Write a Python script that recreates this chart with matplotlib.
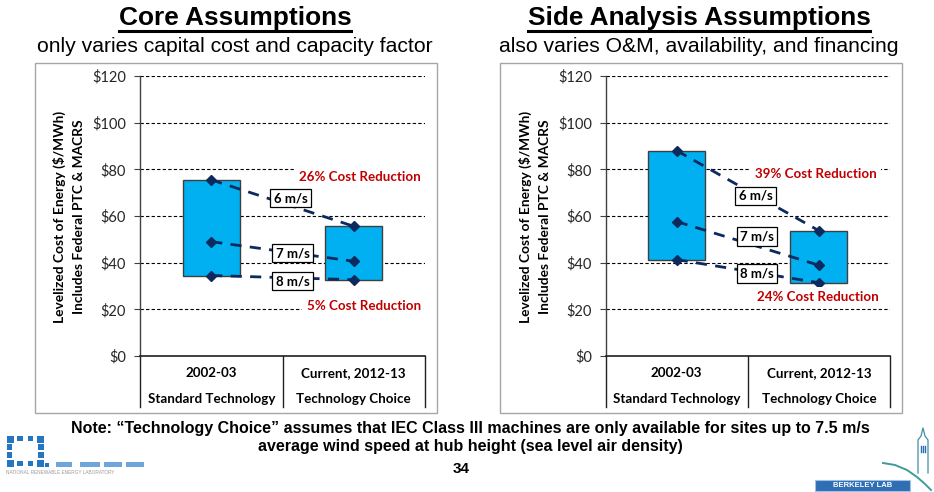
import matplotlib
matplotlib.use('Agg')
import matplotlib.pyplot as plt
import matplotlib.transforms as mtransforms
from matplotlib.patches import Rectangle
from matplotlib.lines import Line2D
import math

# ---------------- data ----------------
categories_top = ["2002-03", "Current, 2012-13"]
categories_bottom = ["Standard Technology", "Technology Choice"]
speed_labels = ["6 m/s", "7 m/s", "8 m/s"]

core_6ms = [75.5, 55.6]
core_7ms = [49.0, 40.6]
core_8ms = [34.5, 32.7]

side_6ms = [88.0, 53.7]
side_7ms = [57.6, 38.9]
side_8ms = [41.3, 31.4]

core_reductions = ["26% Cost Reduction", "5% Cost Reduction"]
side_reductions = ["39% Cost Reduction", "24% Cost Reduction"]

yticks = [0, 20, 40, 60, 80, 100, 120]
ytick_labels = ["$0", "$20", "$40", "$60", "$80", "$100", "$120"]

titles = ["Core Assumptions", "Side Analysis Assumptions"]
subtitles = ["only varies capital cost and capacity factor",
             "also varies O&M, availability, and financing"]
ylabel1 = "Levelized Cost of Energy ($/MWh)"
ylabel2 = "Includes Federal PTC & MACRS"
note_lines = ["Note: \u201cTechnology Choice\u201d assumes that IEC Class III machines are only available for sites up to 7.5 m/s",
              "average wind speed at hub height (sea level air density)"]
page_no = "34"

# ---------------- style ----------------
W, H = 934, 492
DPI = 100
CAL = ['Lato', 'DejaVu Sans']
ARIAL = ['Liberation Sans', 'DejaVu Sans']
BOX_BLUE = '#00B0F0'
NAVY = '#0D2A5E'
RED = '#C00000'

fig = plt.figure(figsize=(W / DPI, H / DPI), dpi=DPI)
fig.patch.set_facecolor('white')


def fx(x):
    return x / W


def fy(y):
    return 1 - y / H


def draw_panel(ax, s6, s7, s8, reductions, label_pos, red_pos):
    xs = list(range(len(categories_top)))
    ax.set_xlim(-0.5, 1.5)
    ax.set_ylim(0, 120)
    # grid
    for t in yticks[1:]:
        ax.axhline(t, color='black', lw=0.8, ls=(0, (3, 2)), zorder=1)
    # floating boxes
    lows = [min(a, b, c) for a, b, c in zip(s6, s7, s8)]
    highs = [max(a, b, c) for a, b, c in zip(s6, s7, s8)]
    ax.bar(xs, [h - l for h, l in zip(highs, lows)], bottom=lows, width=0.40,
           color=BOX_BLUE, edgecolor='#3F3F3F', linewidth=1.0, zorder=2)
    # dashed series
    for series in (s6, s7, s8):
        ax.plot(xs, series, color=NAVY, lw=2.0, ls=(0, (4, 3)), marker='D',
                markersize=5, markerfacecolor=NAVY, markeredgecolor=NAVY, zorder=4)
    # speed labels
    for lab, (px_, py_) in zip(speed_labels, label_pos):
        ax.text(px_, py_, lab, ha='center', va='center', fontsize=9.5,
                fontweight='bold', family=CAL, color='black', zorder=6,
                bbox=dict(boxstyle='square,pad=0.25', fc='white', ec='black', lw=0.9))
    # reductions
    for lab, (px_, py_) in zip(reductions, red_pos):
        ax.text(px_, py_, lab, ha='right', va='center', fontsize=9.6,
                fontweight='bold', family=CAL, color=RED, zorder=6,
                bbox=dict(boxstyle='square,pad=0.35', fc='white', ec='none'))
    # axes styling
    ax.set_yticks(yticks)
    ax.set_yticklabels(ytick_labels, family=CAL, fontsize=10.5, color='#262626')
    ax.tick_params(axis='y', length=4, width=0.8, color='#404040', pad=6)
    ax.set_xticks([])
    for s in ('top', 'right'):
        ax.spines[s].set_visible(False)
    ax.spines['left'].set_color('#404040')
    ax.spines['left'].set_linewidth(1.0)
    ax.spines['bottom'].set_color('#202020')
    ax.spines['bottom'].set_linewidth(1.2)
    ax.set_facecolor('none')
    # multi-level category axis
    tr = mtransforms.blended_transform_factory(ax.transData, ax.transAxes)
    for xb in (-0.5, 0.5, 1.5):
        ax.add_line(Line2D([xb, xb], [0, -0.182], transform=tr, color='#202020',
                           lw=1.0, clip_on=False))
    for x, t1, t2 in zip(xs, categories_top, categories_bottom):
        ax.text(x, -0.061, t1, transform=tr, ha='center', va='center',
                fontsize=9.6, fontweight='bold', family=CAL, color='black')
        ax.text(x, -0.155, t2, transform=tr, ha='center', va='center',
                fontsize=9.6, fontweight='bold', family=CAL, color='black')


# frames
for (x0, x1) in ((35, 437), (500, 902)):
    fig.patches.append(Rectangle((fx(x0), fy(413)), fx(x1) - fx(x0), fy(63) - fy(413),
                                 transform=fig.transFigure, fill=False,
                                 ec='#A6A6A6', lw=1.0, zorder=0))

ax1 = fig.add_axes([fx(140), fy(356), fx(425) - fx(140), fy(76) - fy(356)])
ax2 = fig.add_axes([fx(605.7), fy(356), fx(890) - fx(605.7), fy(76) - fy(356)])

draw_panel(ax1, core_6ms, core_7ms, core_8ms, core_reductions,
           [(0.556, 67.7), (0.57, 44.1), (0.57, 32.1)],
           [(1.47, 76.8), (1.47, 21.5)])
draw_panel(ax2, side_6ms, side_7ms, side_8ms, side_reductions,
           [(0.554, 68.6), (0.564, 51.1), (0.564, 35.4)],
           [(1.405, 77.9), (1.42, 25.1)])

# y labels
for ax, xa in ((ax1, (59, 79, 140)), (ax2, (525, 545, 605.7))):
    x_axis = xa[2]
    w_ax = 285
    ax.text((xa[0] - x_axis) / w_ax, 0.496, ylabel1, transform=ax.transAxes,
            rotation=90, ha='center', va='center', fontsize=9.9, fontweight='bold',
            family=CAL, color='black')
    ax.text((xa[1] - x_axis) / w_ax, 0.496, ylabel2, transform=ax.transAxes,
            rotation=90, ha='center', va='center', fontsize=9.9, fontweight='bold',
            family=CAL, color='black')

# titles
title_objs = []
for cx, t, st in ((235, titles[0], subtitles[0]), (699, titles[1], subtitles[1])):
    to = fig.text(fx(cx), fy(18), t, ha='center', va='center', fontsize=18.9,
                  fontweight='bold', family=ARIAL, color='black')
    title_objs.append(to)
    fig.text(fx(cx), fy(47), st, ha='center', va='center', fontsize=15.2,
             family=ARIAL, color='black')

# notes
fig.text(fx(470), fy(428), note_lines[0], ha='center', va='center', fontsize=11.5,
         fontweight='bold', family=ARIAL, color='black')
fig.text(fx(470), fy(447), note_lines[1], ha='center', va='center', fontsize=11.5,
         fontweight='bold', family=ARIAL, color='black')
fig.text(fx(461), fy(469), page_no, ha='center', va='center', fontsize=11,
         fontweight='bold', family=ARIAL, color='black')

# underline titles
fig.canvas.draw()
r = fig.canvas.get_renderer()
for to in title_objs:
    bb = to.get_window_extent(renderer=r)
    yline = fy(30.5)
    fig.lines.append(Line2D([bb.x0 / W, bb.x1 / W], [yline, yline],
                            transform=fig.transFigure, color='black', lw=2.2))

# ---- NREL logo (approximation) ----
ring = [(-1, -1), (-0.35, -1.05), (0.35, -1.05), (1, -1), (1.05, -0.35), (1.05, 0.35),
        (1, 1), (0.35, 1.05), (-0.35, 1.05), (-1, 1), (-1.05, 0.35), (-1.05, -0.35)]
cx0, cy0 = 25, 451
for i, (ux, uy) in enumerate(ring):
    sq = 7 if i % 3 == 0 else 5.5
    x = cx0 + 15 * ux
    y = cy0 + 12 * uy
    fig.patches.append(Rectangle((fx(x - sq / 2), fy(y + sq / 2)), sq / W, sq / H,
                                 transform=fig.transFigure, fc='#2576C0', ec='none'))
fig.patches.append(Rectangle((fx(45), fy(467)), 4 / W, 4 / H,
                             transform=fig.transFigure, fc='#2576C0', ec='none'))
for (x0, x1) in ((56, 72), (80, 100), (104, 122), (126, 144)):
    fig.patches.append(Rectangle((fx(x0), fy(467)), (x1 - x0) / W, 5 / H,
                                 transform=fig.transFigure, fc='#4A90D2', ec='none', alpha=0.8))
fig.text(fx(6), fy(473), "NATIONAL RENEWABLE ENERGY LABORATORY", ha='left', va='center',
         fontsize=3.4, family=ARIAL, color='#9A9A9A')

# ---- Berkeley Lab logo (approximation) ----
fig.patches.append(Rectangle((fx(815), fy(491)), 95 / W, 11 / H, transform=fig.transFigure,
                             fc='#2F6DB5', ec='#9CC3E6', lw=0.8))
fig.text(fx(862.5), fy(485.5), "BERKELEY LAB", ha='center', va='center', fontsize=5.5,
         fontweight='bold', family=ARIAL, color='white')
tower = [(918, 473), (918, 440), (921, 436), (923, 428), (925, 436), (928, 440), (928, 473)]
fig.lines.append(Line2D([fx(p[0]) for p in tower], [fy(p[1]) for p in tower],
                        transform=fig.transFigure, color='#3F8FA8', lw=0.9))
for xx in (921, 923, 925):
    fig.lines.append(Line2D([fx(xx), fx(xx)], [fy(446), fy(452)], transform=fig.transFigure,
                            color='#2F6DB5', lw=1.0))
curve_x = [883, 895, 907, 917, 925, 931]
curve_y = [463, 465, 470, 477, 484, 490]
fig.lines.append(Line2D([fx(v) for v in curve_x], [fy(v) for v in curve_y],
                        transform=fig.transFigure, color='#3E9C9A', lw=1.4))

fig.savefig('out.png', dpi=DPI)
